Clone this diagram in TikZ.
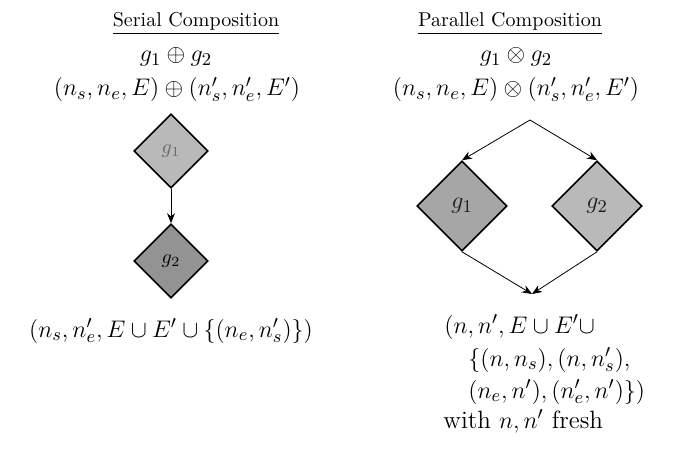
\documentclass[tikz,border=0pt]{standalone}
\usepackage{amsmath,amssymb}
\usepackage{tikz}
\usetikzlibrary{shapes.geometric,arrows.meta}

\tikzset{
  graphbox/.style={diamond,draw,thick,inner sep=0pt,minimum size=#1},
  flow/.style={-{Stealth[length=5pt,width=4pt]},thin},
  term/.style={font=\fontsize{12.5pt}{15pt}\selectfont},
  termline/.style={term,anchor=base west,inner sep=0.5pt},
}

\begin{document}
\begin{tikzpicture}[x=0.5pt,y=-0.5pt]
    \useasboundingbox (0,0) rectangle (679,454);

    % serial composition
    \node[anchor=base] (stitle) at (196,27) {\underline{Serial Composition}};
    \node[term,anchor=base] (sop) at (176,62) {$g_1 \oplus g_2$};
    \node[term,anchor=base] (sterm) at (177,96) {$(n_s,n_e,E) \oplus (n'_s,n'_e,E')$};

    \node[graphbox=37pt,fill=gray!55,text=gray!80!black] (sone) at (171,151) {$g_1$};
    \node[graphbox=37pt,fill=gray!85,text=black] (stwo) at (171,261) {$g_2$};
    \draw[flow] (sone.south) -- (stwo.north);

    \node[term,anchor=base] (sres) at (171,337) {$(n_s,n'_e,E \cup E' \cup \{(n_e,n'_s)\})$};

    % parallel composition
    \node[anchor=base] (ptitle) at (510,27) {\underline{Parallel Composition}};
    \node[term,anchor=base] (pop) at (516,62) {$g_1 \otimes g_2$};
    \node[term,anchor=base] (pterm) at (516,96) {$(n_s,n_e,E) \otimes (n'_s,n'_e,E')$};

    \coordinate (split) at (530,120);
    \node[term,graphbox=45pt,fill=gray!70,text=gray!20!black] (pone) at (462,206) {$g_1$};
    \node[term,graphbox=45pt,fill=gray!55,text=gray!20!black] (ptwo) at (597,206) {$g_2$};
    \coordinate (join) at (532,294);
    \draw[flow] (split) -- (pone.north);
    \draw[flow] (split) -- (ptwo.north);
    \draw[flow] (pone.south) -- (join);
    \draw[flow] (ptwo.south) -- (join);

    \node[termline] (pres) at (443,333) {$(n,n',E \cup E'{\cup}$};
    \node[termline] (pedgea) at (467,366) {$\{(n,n_s),(n,n'_s),$};
    \node[termline] (pedgeb) at (467,398) {$(n_e,n'),(n'_e,n')\})$};
    \node[termline] (pfresh) at (442,428) {with $n,n'$ fresh};
\end{tikzpicture}
\end{document}
